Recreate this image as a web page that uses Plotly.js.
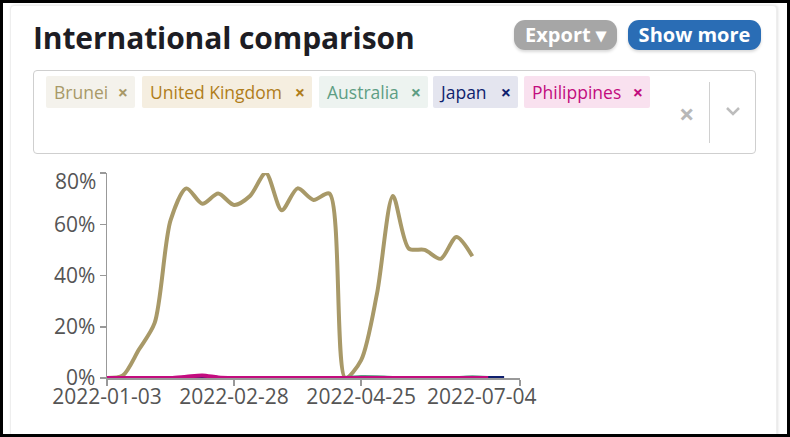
<!DOCTYPE html>
<html>
<head>
<meta charset="utf-8">
<script src="https://cdn.plot.ly/plotly-3.0.1.min.js"></script>
<style>
  html, body { margin: 0; padding: 0; width: 790px; height: 437px; overflow: hidden; background: #fff; font-family: "Open Sans", "Noto Sans", sans-serif; }
  #frame { position: absolute; left: 0; top: 0; width: 790px; height: 437px; box-sizing: border-box; border: 3px solid #000; z-index: 20; pointer-events: none; }
  #card { position: absolute; left: 10px; top: 5px; width: 767px; height: 440px; box-sizing: border-box; border: 1px solid #eee; border-radius: 4px; box-shadow: 1px 0 3px rgba(0,0,0,0.12); background: #fff; }
  #chart { position: absolute; left: 0; top: 0; width: 790px; height: 437px; z-index: 2; }
  .ui { position: absolute; z-index: 5; }
  #title { left: 33px; top: 17px; font-size: 30px; font-weight: 700; color: #1d1d24; letter-spacing: -0.1px; white-space: nowrap; }
  .btn { top: 20px; height: 30px; border-radius: 11px; color: #fff; font-weight: 700; font-size: 20px; line-height: 29px; text-align: center; box-shadow: 0 2px 3px rgba(0,0,0,0.15); white-space: nowrap; }
  #export { left: 514px; width: 103px; background: #a6a6a6; }
  #more { left: 628px; width: 133px; background: #2a6db5; }
  #select { left: 33px; top: 70px; width: 723px; height: 84px; box-sizing: border-box; border: 1px solid #cfcfcf; border-radius: 4px; background: #fff; }
  .tag { position: absolute; top: 76px; height: 32px; line-height: 32px; font-size: 17.5px; border-radius: 2px; white-space: nowrap; box-sizing: border-box; padding-left: 8px; }
  .tag span.x { position: absolute; font-weight: 700; font-size: 18px; }
  #sep { left: 709px; top: 82px; width: 1px; height: 61px; background: #d0d0d0; }
  #clr { left: 679px; top: 95px; font-size: 27px; color: #b8b8b8; font-weight: 700; }
  #chev { left: 725px; top: 106px; }
</style>
</head>
<body>
<div id="card"></div>
<div id="chart"></div>
<div id="title" class="ui">International comparison</div>
<div id="export" class="ui btn">Export ▾</div>
<div id="more" class="ui btn">Show more</div>
<div id="select" class="ui"></div>
<div id="tags"></div>
<div id="sep" class="ui"></div>
<div id="clr" class="ui">×</div>
<svg id="chev" class="ui" width="16" height="10"><polyline points="2,2 8,8 14,2" fill="none" stroke="#bdbdbd" stroke-width="2.5"/></svg>
<div id="frame"></div>
<script>
// ---- data ----
const weeks = ["2022-01-03","2022-01-10","2022-01-17","2022-01-24","2022-01-31","2022-02-07","2022-02-14","2022-02-21","2022-02-28","2022-03-07","2022-03-14","2022-03-21","2022-03-28","2022-04-04","2022-04-11","2022-04-18","2022-04-25","2022-05-02","2022-05-09","2022-05-16","2022-05-23","2022-05-30","2022-06-06","2022-06-13","2022-06-20","2022-06-27"];
const countries = ["Brunei","United Kingdom","Australia","Japan","Philippines"];
const colors = ["#a89968","#b07d1a","#5e9e84","#0f1f6e","#c20c7e"];
const tagBg = ["#f4f2ec","#f5eee0","#edf3f0","#e4e5ef","#f9e1ef"];
const brunei = [0,1,11,21.5,61.5,74,68,72,67.5,71,80,65.5,74,69.5,72,0,7,33,71,50.5,50,46.5,55,47.5,null,null];
const uk = [0,0,0,0,0,0,0,0,0,0,0,0,0,0,0,0,0,0,0,0,0,0,0,0,null,null];
const australia = [0,0,0,0,0,0,0,0,0,0,0,0,0,0,0,0,0.4,0.3,0,0,0,0,0,0.3,0,null];
const japan = [0,0,0,0,0,0.1,0.6,0,0,0,0,0,0,0,0,0,0,0,0,0,0,0,0,0,0,0];
const philippines = [0,0,0,0,0,0.5,1,0.2,0,0,0,0,0,0,0,0,0,0,0,0,0,0,0,0,0,null];
const xTicks = ["2022-01-03","2022-02-28","2022-04-25","2022-07-04"];
const yTicks = [0,20,40,60,80];
const yTickText = ["0%","20%","40%","60%","80%"];

// tags
const tagPos = [[46,89],[142,170],[319,109],[433,85],[524,126]];
const tagsDiv = document.getElementById('tags');
countries.forEach((c,i)=>{
  const d = document.createElement('div');
  d.className = 'ui tag';
  d.style.left = tagPos[i][0]+'px';
  d.style.width = tagPos[i][1]+'px';
  d.style.background = tagBg[i];
  d.style.color = colors[i];
  d.innerHTML = c + '<span class="x" style="right:7px;top:0">×</span>';
  tagsDiv.appendChild(d);
});

const seriesVals = [brunei, uk, australia, japan, philippines];
const traces = countries.map((c,i)=>({
  type:'scatter', mode:'lines', name:c, x:weeks, y:seriesVals[i],
  line:{color:colors[i], width:4, shape:'spline', smoothing:0.8},
  hoverinfo:'skip', connectgaps:false, cliponaxis:true
}));

const tickFont = {family:'"Open Sans", "Noto Sans", sans-serif', size:21, color:'#555'};
// last x label and top y label are nudged inward as in the reference
const nY = yTickText.length;
const xText = xTicks.map((t,i)=> i===xTicks.length-1 ? '' : t);
const yText = yTickText.map((t,i)=> i===nY-1 ? '' : t);
const layout = {
  width:790, height:437,
  margin:{l:107, r:270, t:173, b:59, pad:0},
  paper_bgcolor:'rgba(0,0,0,0)', plot_bgcolor:'rgba(0,0,0,0)',
  showlegend:false,
  xaxis:{type:'date', range:['2022-01-03','2022-07-04'], tickvals:xTicks, ticktext:xText,
    showgrid:false, zeroline:false, showline:true, linecolor:'#999', linewidth:1.5,
    ticks:'outside', ticklen:6, tickwidth:1.5, tickcolor:'#999', tickfont:tickFont,
    ticklabelstandoff:-7, fixedrange:true},
  yaxis:{range:[0,80], tickvals:yTicks, ticktext:yText,
    showgrid:false, zeroline:false, showline:true, linecolor:'#999', linewidth:1.5,
    ticks:'outside', ticklen:6, tickwidth:1.5, tickcolor:'#999', tickfont:tickFont, fixedrange:true},
  annotations:[
    {x:xTicks[xTicks.length-1], xref:'x', y:0, yref:'paper', yanchor:'top', xanchor:'right',
     xshift:19, yshift:-2, text:xTicks[xTicks.length-1], showarrow:false, font:tickFont},
    {x:0, xref:'paper', y:yTicks[nY-1], yref:'y', xanchor:'right', yanchor:'middle',
     xshift:-9, yshift:-8, text:yTickText[nY-1], showarrow:false, font:tickFont}
  ]
};
Plotly.newPlot('chart', traces, layout, {staticPlot:true, displayModeBar:false});
</script>
</body>
</html>
